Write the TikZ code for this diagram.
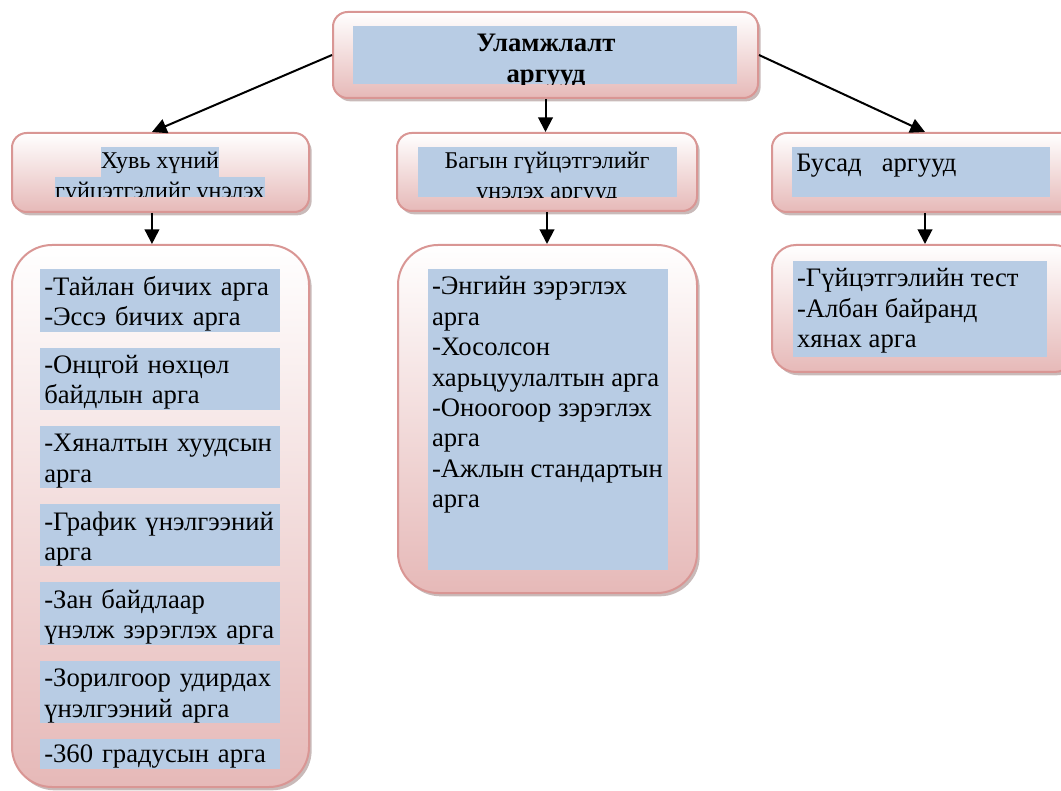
\documentclass[tikz,border=0pt]{standalone}
\usepackage{fontspec}
\setmainfont{Liberation Serif}
\usepackage{tikz}
\usetikzlibrary{positioning,calc,fit,shadows}
\usetikzlibrary{arrows.meta}

\definecolor{rim}{HTML}{D99694}
\definecolor{rose}{HTML}{E6B9B8}
\definecolor{hili}{HTML}{B8CCE4}
\newcommand{\tstrut}{\rule{0pt}{19.5pt}}
\newcommand{\bstrut}{\rule[-4.5pt]{0pt}{4.5pt}}

\begin{document}
\begin{tikzpicture}[x=0.75pt,y=-0.75pt,
    rbox/.style={draw=rim,line width=1.5pt,rounded corners=#1,top color=white,bottom color=rose,inner sep=0pt,
        drop shadow={shadow xshift=2pt,shadow yshift=-2.5pt,fill=rim!55!black,opacity=.4}},
    rbox/.default=11pt,
    hibox/.style={fill=hili,inner sep=0pt},
    big/.style={font=\fontsize{20}{22.8}\selectfont},
    small/.style={font=\fontsize{18}{20.3}\selectfont},
    item/.style={big,fill=hili,anchor=north west,inner xsep=3pt,inner ysep=0pt,text width=174pt,align=left},
    hline/.style={small,fill=hili,anchor=base,inner xsep=0pt,inner ysep=0pt,text height=16.5pt,text depth=6pt},
    arr/.style={draw,line width=1.5pt,-{Triangle[length=11pt,width=11pt]}}]
    \useasboundingbox (0,0) rectangle (1061,791);

    % top box
    \node[rbox,fit={(333,12) (758,98)}] (U) {};
    \node[hibox,fit={(353,26) (737,84)}] (Ub) {};
    \begin{scope}
        \clip (Ub.south west) rectangle (Ub.north east);
        \node[anchor=base,font=\fontsize{20}{22}\selectfont\bfseries] (U1) at (546,52) {Уламжлалт};
        \node[anchor=base,font=\fontsize{20}{22}\selectfont\bfseries] (U2) at (546,83) {аргууд};
    \end{scope}

    % second row
    \node[rbox,fit={(12,133) (309,212)}] (H) {};
    \begin{scope}
        \clip (12,147) rectangle (309,197);
        \node[hline] (H2) at (160,199) {гүйцэтгэлийг үнэлэх};
        \node[hline] (H1) at (160,169) {Хувь хүний};
    \end{scope}

    \node[rbox,fit={(397,133) (697,211)}] (B) {};
    \node[hibox,fit={(418,147) (677,197)}] (Bb) {};
    \begin{scope}
        \clip (Bb.south west) rectangle (Bb.north east);
        \node[small,anchor=base] (B1) at (547,169) {Багын гүйцэтгэлийг};
        \node[small,anchor=base] (B2) at (547,199) {үнэлэх аргууд};
    \end{scope}

    \node[rbox,fit={(772,133) (1078,212)}] (O) {};
    \node[hibox,fit={(792,147) (1050,197)}] (Ob) {};
    \node[big,anchor=base west,inner sep=0pt] (O1) at (796,172) {Бусад\ \ \ аргууд};

    % left column
    \node[rbox=30pt,fit={(12,245) (309,787)}] (L) {};
    \node[item] (L1) at (40,269) {\tstrut-Тайлан бичих арга\\-Эссэ бичих арга\bstrut};
    \node[item,below=11.5pt of L1] (L2) {\tstrut-Онцгой нөхцөл\\байдлын арга\bstrut};
    \node[item,below=11.5pt of L2] (L3) {\tstrut-Хяналтын хуудсын\\арга\bstrut};
    \node[item,below=11.5pt of L3] (L4) {\tstrut-График үнэлгээний\\арга\bstrut};
    \node[item,below=11.5pt of L4] (L5) {\tstrut-Зан байдлаар\\үнэлж зэрэглэх арга\bstrut};
    \node[item,below=11.5pt of L5] (L6) {\tstrut-Зорилгоор удирдах\\үнэлгээний арга\bstrut};
    \node[item,below=11.5pt of L6] (L7) {\rule{0pt}{18pt}-360 градусын арга\bstrut};

    % middle column
    \node[rbox=30pt,fit={(398,245) (697,593)}] (M) {};
    \node[hibox,fit={(428,269) (668,570)}] (Mb) {};
    \node[big,anchor=north west,inner xsep=3pt,inner ysep=0pt,align=left] (M1) at (Mb.north west)
        {\tstrut-Энгийн зэрэглэх\\арга\\-Хосолсон\\харьцуулалтын арга\\-Оноогоор зэрэглэх\\арга\\-Ажлын стандартын\\арга};

    % right column
    \node[rbox=18pt,fit={(772,245) (1078,372)}] (R) {};
    \node[hibox,fit={(793,261) (1047,357)}] (Rb) {};
    \node[big,anchor=north west,inner xsep=3pt,inner ysep=0pt,align=left] (R1) at (Rb.north west)
        {\tstrut-Гүйцэтгэлийн тест\\-Албан байранд\\хянах арга};

    % arrows
    \draw[arr] (U.west) -- ([xshift=-6.4pt]H.north);
    \draw[arr] (U.south) -- (U.south |- B.north);
    \draw[arr] (U.east) -- (O.north);
    \draw[arr] ([xshift=-6.4pt]H.south) -- ([xshift=-6.4pt]L.north);
    \draw[arr] (B.south) -- (B.south |- M.north);
    \draw[arr] (O.south) -- (R.north);
\end{tikzpicture}
\end{document}
